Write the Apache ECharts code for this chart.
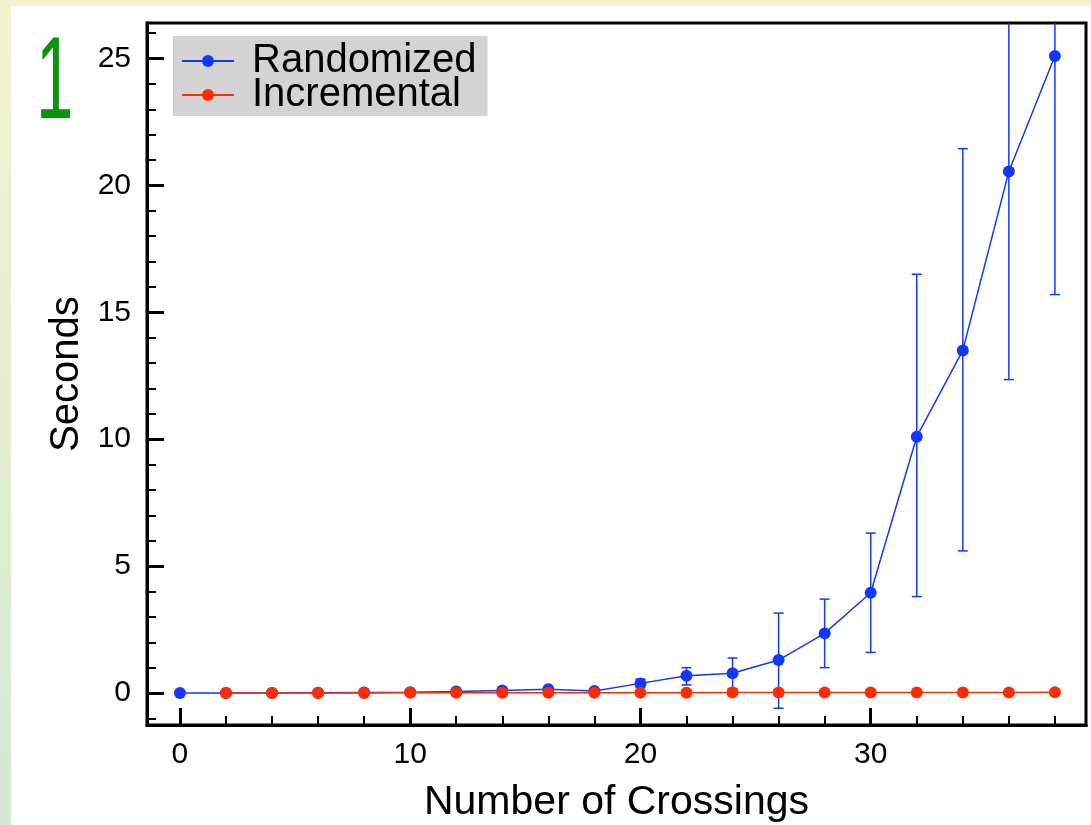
<!DOCTYPE html>
<html>
<head>
<meta charset="utf-8">
<script src="https://cdn.jsdelivr.net/npm/echarts@6/dist/echarts.min.js"></script>
<style>
  html, body { margin: 0; padding: 0; }
  #chart { width: 1091px; height: 825px; }
</style>
</head>
<body>
<div id="chart"></div>
<script>
// data
const crossings = [0, 2, 4, 6, 8, 10, 12, 14, 16, 18, 20, 22, 24, 26, 28, 30, 32, 34, 36, 38];
const randomized = [0, 0, 0, 0.01, 0.02, 0.03, 0.06, 0.1, 0.15, 0.08, 0.38, 0.68, 0.78, 1.3, 2.35, 3.95, 10.1, 13.5, 20.55, 25.1];
const errLow  = [null, null, null, null, null, null, null, null, null, null, 0.22, 0.32, 0.18, -0.6, 1.0, 1.6, 3.8, 5.6, 12.35, 15.7];
const errHigh = [null, null, null, null, null, null, null, null, null, null, 0.55, 1.0, 1.38, 3.15, 3.7, 6.3, 16.5, 21.45, 29.0, 29.6];
const incCrossings = [2, 4, 6, 8, 10, 12, 14, 16, 18, 20, 22, 24, 26, 28, 30, 32, 34, 36, 38];
const incremental = [0, 0, 0, 0, 0.01, 0.01, 0.01, 0.01, 0.01, 0.01, 0.01, 0.02, 0.02, 0.02, 0.02, 0.02, 0.02, 0.02, 0.03];

const xMajor = [0, 10, 20, 30];
const xMinor = [2, 4, 6, 8, 12, 14, 16, 18, 22, 24, 26, 28, 32, 34, 36, 38];
const yMajor = [0, 5, 10, 15, 20, 25];
const yMinor = [-1, 1, 2, 3, 4, 6, 7, 8, 9, 11, 12, 13, 14, 16, 17, 18, 19, 21, 22, 23, 24, 26];

const BLUE = '#1238ff';
const RED = '#ff2c00';
const FONT = 'Liberation Sans';

const randData = crossings.map((x, i) => [x, randomized[i]]);
const incData = incCrossings.map((x, i) => [x, incremental[i]]);
const errData = [];
crossings.forEach((x, i) => {
  if (errLow[i] != null) errData.push([x, errLow[i], errHigh[i]]);
});

const chart = echarts.init(document.getElementById('chart'));

function xAxisBase(extra) {
  return Object.assign({
    type: 'value',
    min: -1.43,
    max: 39.35,
    position: 'bottom',
    splitLine: { show: false },
    axisLine: { show: true, onZero: false, lineStyle: { color: '#000', width: 3 } }
  }, extra);
}
function yAxisBase(extra) {
  return Object.assign({
    type: 'value',
    min: -1.26,
    max: 26.4,
    position: 'left',
    splitLine: { show: false },
    axisLine: { show: true, onZero: false, lineStyle: { color: '#000', width: 3 } }
  }, extra);
}

const option = {
  backgroundColor: new echarts.graphic.LinearGradient(0, 0, 0, 1, [
    { offset: 0, color: '#f3f3cf' },
    { offset: 1, color: '#d4e8d6' }
  ]),
  animation: false,
  graphic: [
    {
      type: 'rect', z: -10, silent: true,
      shape: { x: 11, y: 6, width: 1091 - 11, height: 825 - 6 },
      style: { fill: '#fff' }
    },
    {
      type: 'text', x: 36, y: 28, scaleX: 0.58,
      style: { text: '1', fill: '#0a940a', font: '116px "Liberation Sans"' }
    }
  ],
  grid: {
    left: 147, right: 5, top: 23, bottom: 100,
    outerBoundsMode: 'none',
    show: true, borderColor: '#000', borderWidth: 3, backgroundColor: '#fff'
  },
  legend: {
    left: 173, top: 36,
    orient: 'vertical',
    backgroundColor: '#d3d3d3',
    padding: [5, 11, 1, 8],
    itemGap: -6,
    itemWidth: 52,
    itemHeight: 15,
    textStyle: { fontSize: 40, fontFamily: FONT, color: '#000', padding: [0, 0, 0, 13] },
    data: ['Randomized', 'Incremental']
  },
  xAxis: [
    xAxisBase({
      name: 'Number of Crossings',
      nameLocation: 'middle',
      nameGap: 57,
      nameTextStyle: { fontSize: 41, fontFamily: FONT, color: '#000' },
      axisTick: { show: true, inside: true, length: 17, customValues: xMajor, lineStyle: { color: '#000', width: 3 } },
      axisLabel: { customValues: xMajor, fontSize: 30, fontFamily: FONT, color: '#000', margin: 15 }
    }),
    xAxisBase({
      axisTick: { show: true, inside: true, length: 9, customValues: xMinor, lineStyle: { color: '#000', width: 2 } },
      axisLabel: { show: false }
    })
  ],
  yAxis: [
    yAxisBase({
      name: 'Seconds',
      nameLocation: 'middle',
      nameGap: 53,
      nameRotate: 90,
      nameTextStyle: { fontSize: 40, fontFamily: FONT, color: '#000' },
      axisTick: { show: true, inside: true, length: 17, customValues: yMajor, lineStyle: { color: '#000', width: 3 } },
      axisLabel: { customValues: yMajor, fontSize: 30, fontFamily: FONT, color: '#000', margin: 16 }
    }),
    yAxisBase({
      axisTick: { show: true, inside: true, length: 9, customValues: yMinor, lineStyle: { color: '#000', width: 2 } },
      axisLabel: { show: false }
    })
  ],
  series: [
    {
      type: 'custom',
      name: 'errors',
      clip: true,
      z: 1,
      data: errData,
      renderItem: function (params, api) {
        const x = api.value(0);
        const lo = api.coord([x, api.value(1)]);
        const hi = api.coord([x, api.value(2)]);
        const cap = 5;
        const style = { stroke: BLUE, lineWidth: 1.5 };
        return {
          type: 'group',
          children: [
            { type: 'line', shape: { x1: lo[0], y1: lo[1], x2: hi[0], y2: hi[1] }, style: style },
            { type: 'line', shape: { x1: lo[0] - cap, y1: lo[1], x2: lo[0] + cap, y2: lo[1] }, style: style },
            { type: 'line', shape: { x1: hi[0] - cap, y1: hi[1], x2: hi[0] + cap, y2: hi[1] }, style: style }
          ]
        };
      }
    },
    {
      name: 'Randomized',
      type: 'line',
      data: randData,
      symbol: 'circle',
      symbolSize: 12,
      z: 3,
      color: BLUE,
      lineStyle: { color: BLUE, width: 1.5 },
      itemStyle: { color: BLUE }
    },
    {
      name: 'Incremental',
      type: 'line',
      data: incData,
      symbol: 'circle',
      symbolSize: 12,
      z: 4,
      color: RED,
      lineStyle: { color: RED, width: 1.5 },
      itemStyle: { color: RED }
    }
  ]
};

chart.setOption(option);
</script>
</body>
</html>
